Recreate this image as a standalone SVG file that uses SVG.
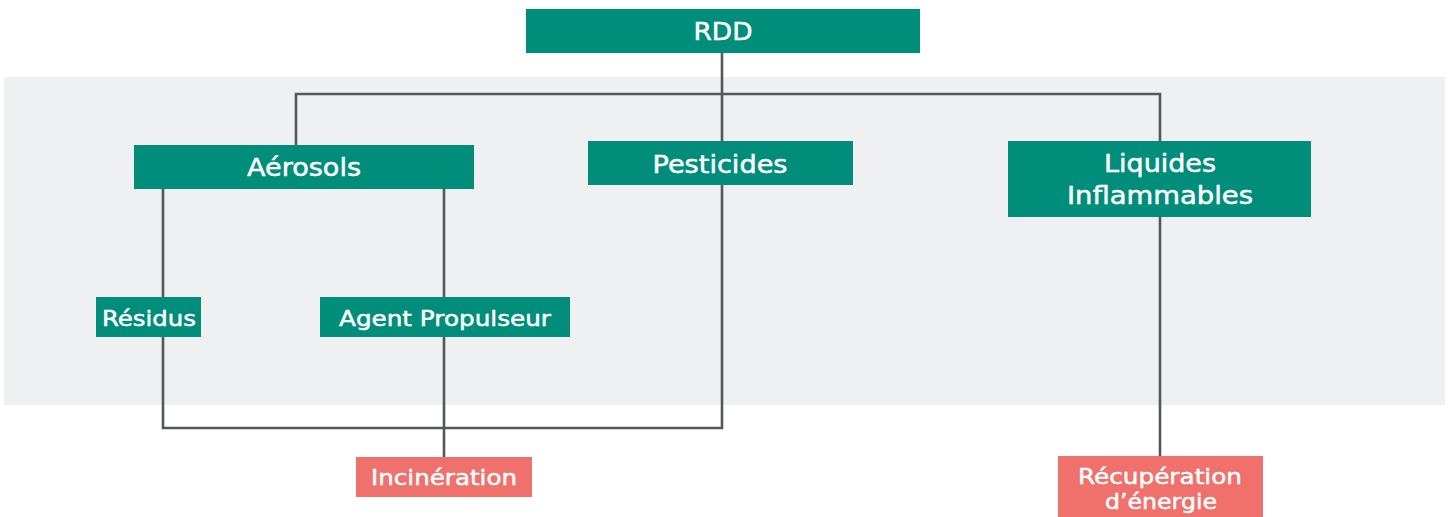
<svg xmlns="http://www.w3.org/2000/svg" width="1450" height="517" viewBox="0 0 1450 517">
<style>
.t{fill:#008E7A}
.r{fill:#F0706B}
.lbl{font-family:"DejaVu Sans","Liberation Sans",sans-serif;fill:#fff;stroke:#fff;stroke-width:0.5;text-anchor:middle;font-size:25px}
.sm{font-size:22px}
.c{fill:none;stroke:#555759;stroke-width:2.6}
</style>
<rect x="4" y="77" width="1441" height="328" fill="#EFF0F2"/>
<g id="connectors">
<path class="c" d="M722 53V185M296 145V94H1160V141"/>
<path class="c" d="M163 189V297M444 189V297"/>
<path class="c" d="M163 337V428H722V185M444 337V457"/>
<path class="c" d="M1160 217V456"/>
</g>
<g id="rdd"><rect class="t" x="526" y="9" width="394" height="44"/><text class="lbl" x="723" y="40" textLength="59" lengthAdjust="spacingAndGlyphs">RDD</text></g>
<g id="aerosols"><rect class="t" x="134" y="145" width="340" height="44"/><text class="lbl" x="304" y="176" textLength="114" lengthAdjust="spacingAndGlyphs">Aérosols</text></g>
<g id="pesticides"><rect class="t" x="588" y="141" width="265" height="44"/><text class="lbl" x="720" y="173" textLength="135" lengthAdjust="spacingAndGlyphs">Pesticides</text></g>
<g id="liquides"><rect class="t" x="1008" y="141" width="303" height="76"/><text class="lbl" x="1160" y="172" textLength="112" lengthAdjust="spacingAndGlyphs">Liquides</text><text class="lbl" x="1160" y="204" textLength="186" lengthAdjust="spacingAndGlyphs">Inflammables</text></g>
<g id="residus"><rect class="t" x="96" y="297" width="105" height="40"/><text class="lbl sm" x="149" y="326" textLength="94" lengthAdjust="spacingAndGlyphs">Résidus</text></g>
<g id="agent"><rect class="t" x="320" y="297" width="250" height="40"/><text class="lbl sm" x="445" y="326" textLength="212" lengthAdjust="spacingAndGlyphs">Agent Propulseur</text></g>
<g id="incineration"><rect class="r" x="356" y="457" width="176" height="40"/><text class="lbl sm" x="444" y="485" textLength="146" lengthAdjust="spacingAndGlyphs">Incinération</text></g>
<g id="recuperation"><rect class="r" x="1058" y="456" width="205" height="61"/><text class="lbl sm" x="1160" y="484" textLength="164" lengthAdjust="spacingAndGlyphs">Récupération</text><text class="lbl sm" x="1161" y="509" textLength="112" lengthAdjust="spacingAndGlyphs">d’énergie</text></g>
</svg>
